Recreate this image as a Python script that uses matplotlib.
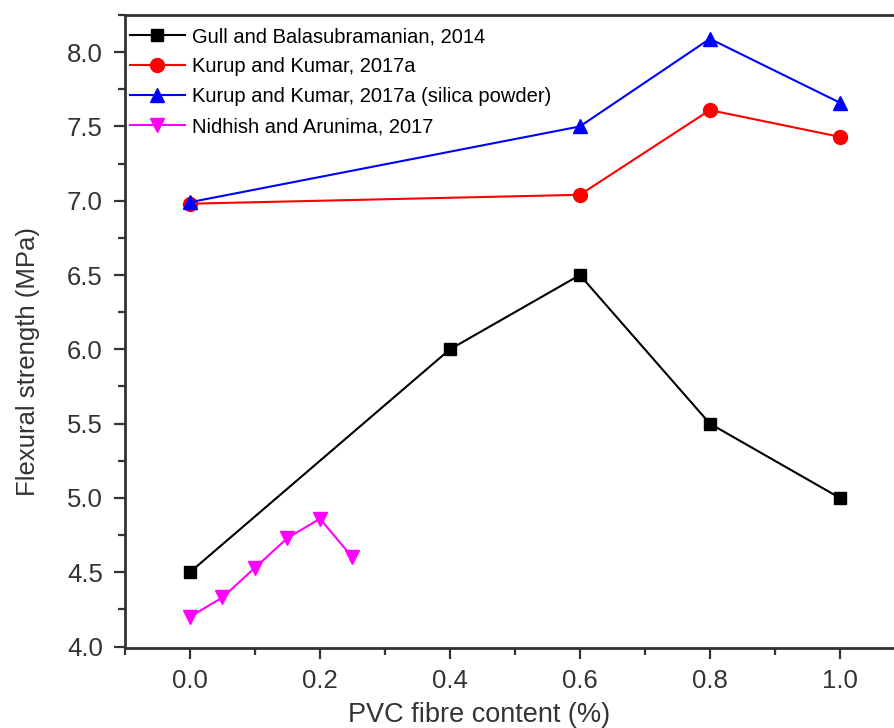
import matplotlib.pyplot as plt
from matplotlib.ticker import MultipleLocator

plt.rcParams['font.family'] = ['Liberation Sans', 'DejaVu Sans']

# data
gull_x = [0.0, 0.4, 0.6, 0.8, 1.0]
gull_y = [4.5, 6.0, 6.5, 5.5, 5.0]

kurup_x = [0.0, 0.6, 0.8, 1.0]
kurup_y = [6.98, 7.04, 7.61, 7.43]

kurup_si_x = [0.0, 0.6, 0.8, 1.0]
kurup_si_y = [6.99, 7.50, 8.09, 7.66]

nidhish_x = [0.0, 0.05, 0.1, 0.15, 0.2, 0.25]
nidhish_y = [4.20, 4.33, 4.53, 4.73, 4.86, 4.60]

fig = plt.figure(figsize=(8.94, 7.28), dpi=100)
# axes run past the right edge of the picture, as in the reference
ax = fig.add_axes([0.1398, 0.1099, 0.945, 0.8695])

ax.plot(gull_x, gull_y, color='black', marker='s', markersize=9, lw=1.5,
        label='Gull and Balasubramanian, 2014')
ax.plot(kurup_x, kurup_y, color='red', marker='o', markersize=10, lw=1.5,
        label='Kurup and Kumar, 2017a')
ax.plot(kurup_si_x, kurup_si_y, color='blue', marker='^', markersize=10, lw=1.5,
        label='Kurup and Kumar, 2017a (silica powder)')
ax.plot(nidhish_x, nidhish_y, color='magenta', marker='v', markersize=10, lw=1.5,
        label='Nidhish and Arunima, 2017')

ax.set_xlim(-0.1, 1.2)
ax.set_ylim(3.99, 8.25)
ax.xaxis.set_minor_locator(MultipleLocator(0.1))
ax.yaxis.set_major_locator(MultipleLocator(0.5))
ax.yaxis.set_minor_locator(MultipleLocator(0.25))
ax.set_xticks([0.0, 0.2, 0.4, 0.6, 0.8, 1.0])
ax.set_xticklabels(['0.0', '0.2', '0.4', '0.6', '0.8', '1.0'])

for s in ax.spines.values():
    s.set_linewidth(2)
    s.set_color('#333333')
ax.tick_params(which='major', direction='out', length=8, width=1.6, color='#333333',
               labelsize=18.5, labelcolor='#333333', pad=7)
ax.tick_params(axis='y', which='major', pad=8)
ax.tick_params(which='minor', direction='out', length=5, width=1.6, color='#333333')

ax.set_xlabel('PVC fibre content (%)', fontsize=19.5, color='#333333')
ax.set_ylabel('Flexural strength (MPa)', fontsize=18.5, color='#333333')
# label positions follow the reference, not the (cropped) axes centre
ax.xaxis.set_label_coords(0.419, -0.085)
ax.yaxis.set_label_coords(-0.10, 0.452)

ax.legend(loc='upper left', frameon=False, fontsize=14.5, handlelength=2.7,
          handletextpad=0.35, labelspacing=0.55, borderaxespad=0.4,
          borderpad=0.2, bbox_to_anchor=(-0.008, 1.0))

fig.savefig('out.png', dpi=100)
